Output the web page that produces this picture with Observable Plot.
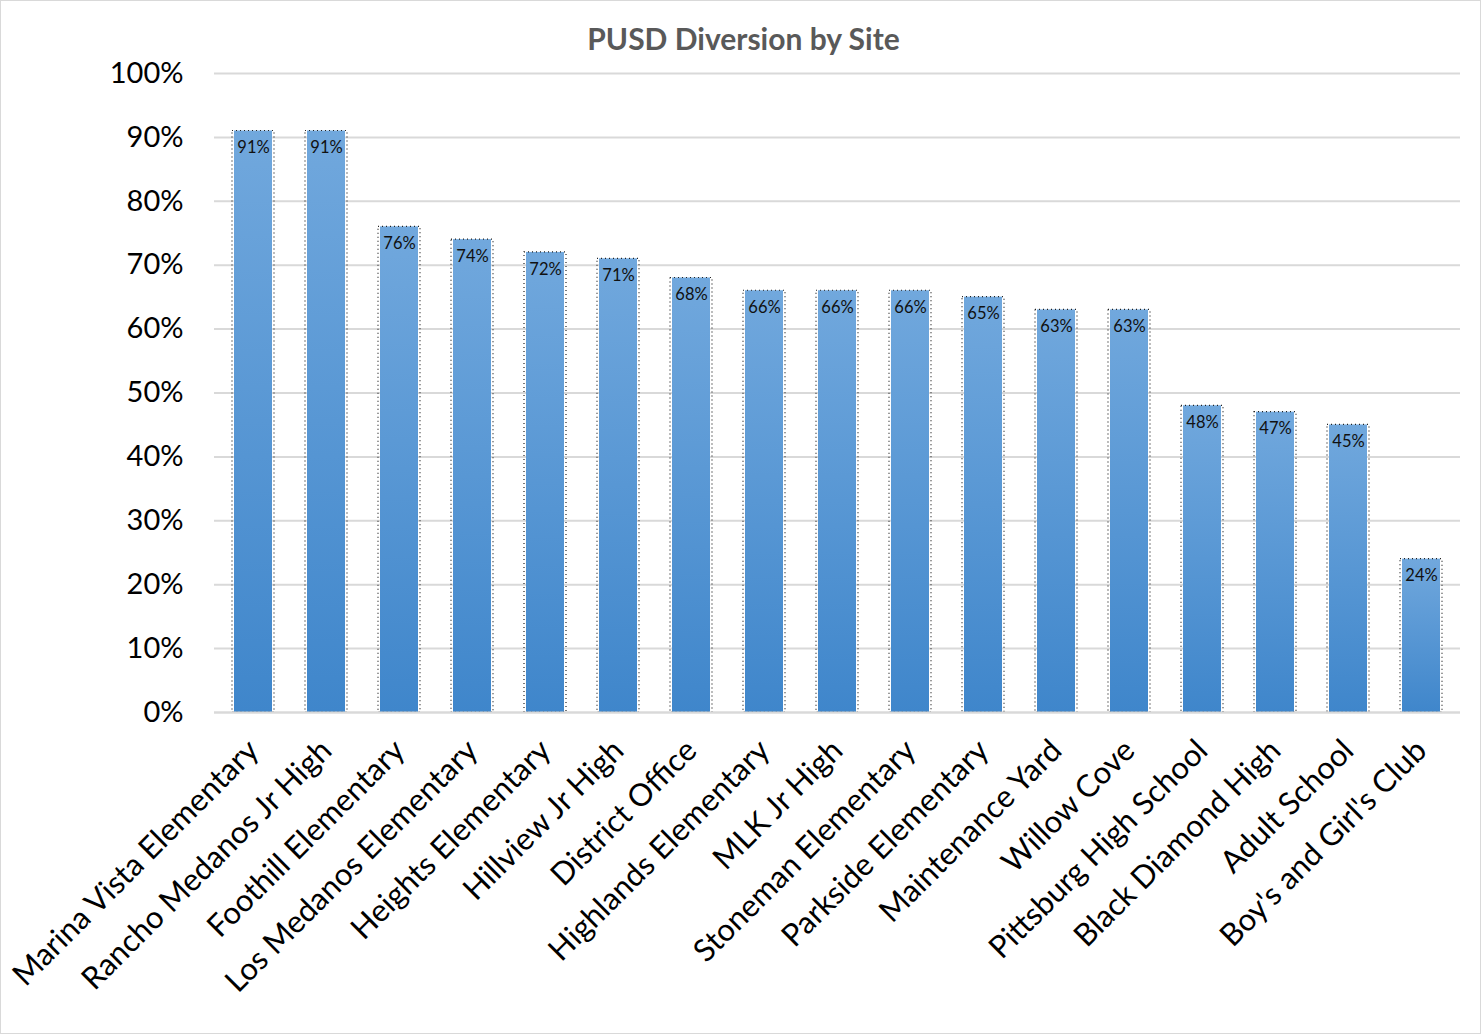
<!DOCTYPE html>
<html>
<head>
<meta charset="utf-8">
<script src="https://cdn.jsdelivr.net/npm/d3@7"></script>
<script src="https://cdn.jsdelivr.net/npm/@observablehq/plot@0.6"></script>
<style>
  html, body { margin: 0; padding: 0; background: #fff; }
  #wrap { width: 1479px; height: 1032px; border: 1px solid #d9d9d9; position: relative; overflow: hidden; }
  #title { height: 50px; line-height: 74px; text-align: center; font-family: Lato, "Open Sans", sans-serif; font-weight: bold; font-size: 30px; color: #595959; padding-left: 6px; }
  svg { display: block; }
</style>
</head>
<body>
<div id="wrap">
  <div id="title">PUSD Diversion by Site</div>
  <div id="chart"></div>
</div>
<script>
const sites = [
  "Marina Vista Elementary", "Rancho Medanos Jr High", "Foothill Elementary",
  "Los Medanos Elementary", "Heights Elementary", "Hillview Jr High",
  "District Office", "Highlands Elementary", "MLK Jr High",
  "Stoneman Elementary", "Parkside Elementary", "Maintenance Yard",
  "Willow Cove", "Pittsburg High School", "Black Diamond High",
  "Adult School", "Boy's and Girl's Club"
];
const diversion = [0.91, 0.91, 0.76, 0.74, 0.72, 0.71, 0.68, 0.66, 0.66, 0.66, 0.65, 0.63, 0.63, 0.48, 0.47, 0.45, 0.24];
const yTicks = [0, 0.1, 0.2, 0.3, 0.4, 0.5, 0.6, 0.7, 0.8, 0.9, 1.0];

const data = sites.map((s, i) => ({site: s, value: diversion[i]}));
const pct = d3.format(".0%");

const chart = Plot.plot({
  width: 1479,
  height: 982,
  marginTop: 22,
  marginLeft: 213,
  marginRight: 20,
  marginBottom: 321,
  style: {fontFamily: "Lato, 'Open Sans', sans-serif", color: "#000", background: "#fff"},
  x: {domain: sites, paddingInner: 0.48, paddingOuter: 0.26, label: null},
  y: {domain: [0, 1], label: null},
  marks: [
    Plot.gridY(yTicks, {stroke: "#d9d9d9", strokeOpacity: 1, strokeWidth: 2}),
    Plot.barY(data, {x: "site", y: "value", fill: "url(#barGrad)"}),
    Plot.barY(data, {x: "site", y: "value", fill: "none", stroke: "#222", strokeWidth: 1.2, strokeDasharray: "1,3", insetLeft: -2, insetRight: -2}),
    Plot.ruleY([0], {stroke: "#d9d9d9", strokeWidth: 2}),
    Plot.text(data, {x: "site", y: "value", text: d => pct(d.value), dy: 17, fontSize: 16.5, fill: "#111"}),
    Plot.axisY(yTicks, {tickFormat: pct, tickSize: 0, tickPadding: 31, fontSize: 29, fill: "#000"}),
    Plot.axisX({tickSize: 0, tickRotate: -45, tickPadding: 33, fontSize: 31, fill: "#000", label: null})
  ]
});

const defs = d3.select(chart).insert("defs", ":first-child");
const g = defs.append("linearGradient").attr("id", "barGrad").attr("x1", 0).attr("y1", 0).attr("x2", 0).attr("y2", 1);
g.append("stop").attr("offset", "0%").attr("stop-color", "#71a8dd");
g.append("stop").attr("offset", "100%").attr("stop-color", "#3f86cb");

document.getElementById("chart").appendChild(chart);
</script>
</body>
</html>
